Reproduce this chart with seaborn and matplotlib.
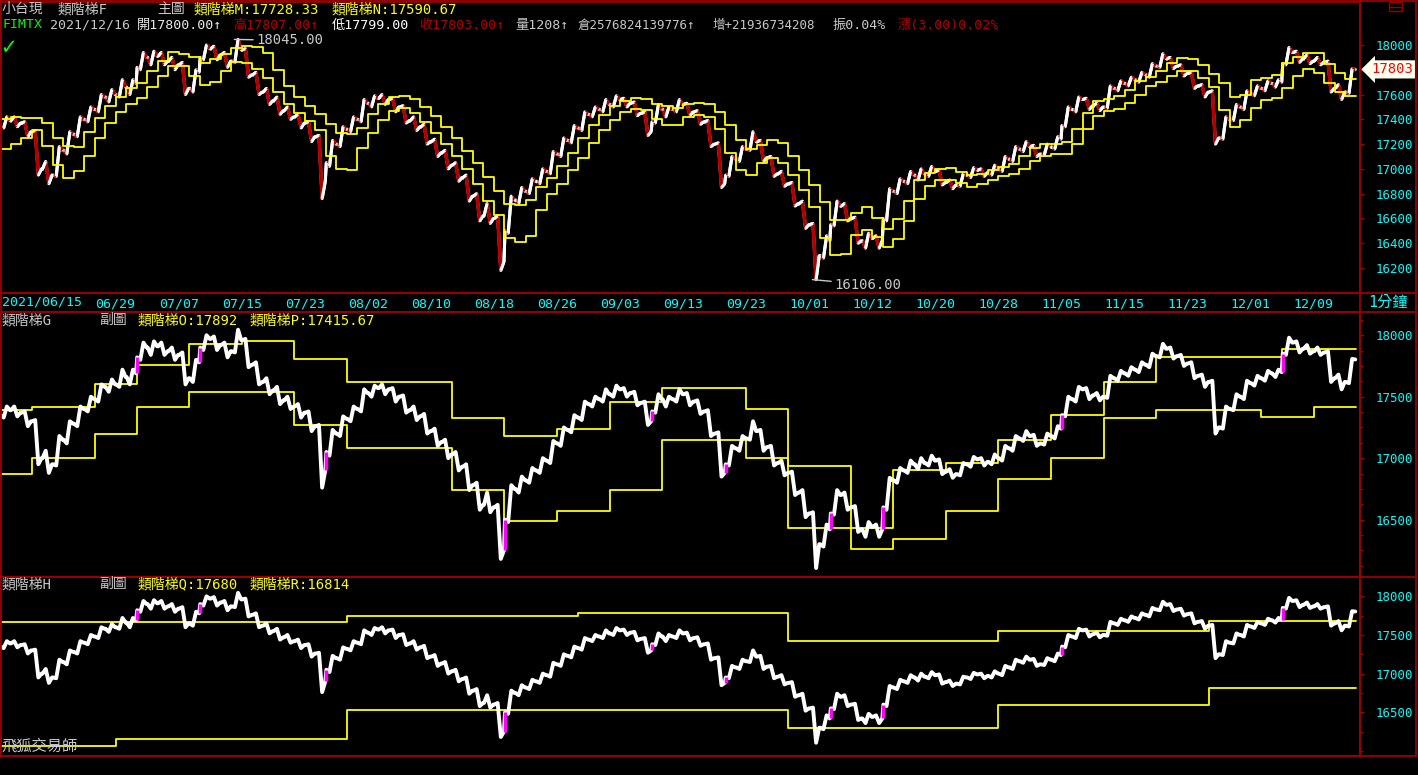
import numpy as np
import matplotlib
matplotlib.use('Agg')
import matplotlib.pyplot as plt
import matplotlib.transforms as mtransforms
from matplotlib.lines import Line2D
from matplotlib.patches import Rectangle
from matplotlib.collections import LineCollection
import seaborn as sns

sns.set_style('dark', {'axes.facecolor': 'black', 'figure.facecolor': 'black'})
plt.rcParams['font.family'] = ['DejaVu Sans Mono', 'Noto Sans CJK TC']

W, H = 1418, 775
RED = '#9a0000'
CYAN = '#00ffff'
YEL = '#ffff00'
GRAY = '#c8c8c8'
DRED = '#b00000'

# daily OHLC (FIMTX, 2021/06/15 - 2021/12/16)
day_open = [17350, 17390, 17370, 17300, 17000, 16950, 17150, 17280, 17400, 17480,
            17580, 17600, 17660, 17820, 17900, 17910, 17870, 17840, 17650, 17900,
            17970, 17920, 17870, 17960, 17760, 17620, 17550, 17470, 17420, 17370,
            17260, 17050, 17200, 17320, 17400, 17530, 17570, 17560, 17500, 17390,
            17340, 17220, 17130, 17030, 16930, 16780, 16620, 16600, 16500, 16750,
            16820, 16900, 16980, 17120, 17230, 17330, 17440, 17480, 17520, 17560,
            17530, 17450, 17380, 17480, 17480, 17520, 17460, 17380, 17200, 16950,
            17080, 17160, 17220, 17090, 16960, 16880, 16720, 16550, 16300, 16550,
            16700, 16600, 16420, 16440, 16600, 16820, 16900, 16950, 16960, 16980,
            16890, 16870, 16950, 16990, 16970, 17000, 17080, 17160, 17180, 17120,
            17180, 17350, 17480, 17560, 17510, 17500, 17650, 17690, 17720, 17760,
            17830, 17890, 17830, 17770, 17670, 17620, 17250, 17400, 17500, 17610,
            17650, 17690, 17850, 17940, 17890, 17870, 17860, 17650, 17620]
day_high = [17420, 17420, 17380, 17310, 17060, 17180, 17300, 17420, 17500, 17600,
            17640, 17720, 17720, 17940, 17950, 17940, 17900, 17860, 17800, 18000,
            17990, 17940, 18045, 17970, 17780, 17650, 17580, 17500, 17440, 17380,
            17270, 17230, 17340, 17420, 17560, 17590, 17600, 17570, 17510, 17420,
            17360, 17240, 17150, 17050, 16950, 16800, 16720, 16620, 16780, 16850,
            16920, 17000, 17140, 17250, 17350, 17460, 17500, 17560, 17590, 17570,
            17540, 17460, 17520, 17500, 17560, 17530, 17470, 17390, 17210, 17100,
            17180, 17300, 17230, 17100, 16980, 16890, 16740, 16560, 16460, 16740,
            16720, 16610, 16480, 16460, 16840, 16920, 16980, 17000, 17020, 16990,
            16910, 16960, 17010, 17000, 17030, 17100, 17180, 17220, 17190, 17200,
            17260, 17500, 17580, 17570, 17530, 17670, 17710, 17740, 17780, 17850,
            17930, 17900, 17840, 17780, 17680, 17630, 17420, 17520, 17630, 17670,
            17710, 17720, 17980, 17950, 17920, 17900, 17870, 17680, 17807]
day_low = [17330, 17340, 17260, 16950, 16880, 16940, 17120, 17260, 17380, 17460,
           17540, 17580, 17600, 17800, 17840, 17840, 17800, 17600, 17620, 17880,
           17880, 17820, 17860, 17740, 17600, 17520, 17440, 17400, 17330, 17220,
           16760, 17020, 17180, 17300, 17380, 17500, 17520, 17460, 17370, 17310,
           17200, 17100, 17000, 16900, 16740, 16580, 16560, 16180, 16480, 16720,
           16800, 16880, 16960, 17100, 17210, 17310, 17420, 17460, 17500, 17500,
           17430, 17270, 17370, 17420, 17460, 17430, 17360, 17180, 16850, 16940,
           17060, 17150, 17060, 16940, 16860, 16700, 16520, 16106, 16280, 16540,
           16580, 16400, 16360, 16360, 16580, 16800, 16880, 16910, 16940, 16870,
           16840, 16860, 16930, 16940, 16950, 16980, 17060, 17140, 17100, 17110,
           17160, 17340, 17460, 17480, 17470, 17490, 17630, 17670, 17700, 17740,
           17820, 17810, 17750, 17650, 17580, 17200, 17240, 17390, 17480, 17590,
           17630, 17660, 17840, 17860, 17850, 17840, 17620, 17560, 17610]
day_close = [17390, 17370, 17300, 17000, 16950, 17150, 17280, 17400, 17480, 17580,
             17600, 17660, 17690, 17900, 17910, 17870, 17840, 17650, 17780, 17970,
             17920, 17870, 17960, 17760, 17620, 17550, 17470, 17420, 17370, 17260,
             16900, 17200, 17320, 17400, 17530, 17570, 17560, 17500, 17390, 17340,
             17220, 17130, 17030, 16930, 16780, 16620, 16600, 16250, 16750, 16820,
             16900, 16980, 17120, 17230, 17330, 17440, 17480, 17520, 17560, 17530,
             17450, 17300, 17480, 17480, 17520, 17460, 17380, 17200, 16880, 17080,
             17160, 17220, 17090, 16960, 16880, 16720, 16550, 16300, 16420, 16700,
             16600, 16420, 16440, 16420, 16820, 16900, 16950, 16960, 16980, 16890,
             16870, 16950, 16990, 16970, 17000, 17080, 17160, 17180, 17120, 17180,
             17240, 17480, 17560, 17510, 17500, 17650, 17690, 17720, 17760, 17830,
             17890, 17830, 17770, 17670, 17620, 17250, 17400, 17500, 17610, 17650,
             17690, 17700, 17940, 17890, 17870, 17860, 17650, 17620, 17803]

# main chart ladders (daily)
ladder_m = [17400, 17420, 17410, 17407, 17370, 17250, 17183, 17180, 17300, 17407,
            17507, 17580, 17653, 17693, 17793, 17870, 17943, 17930, 17900, 17853,
            17887, 17930, 17977, 17992, 17985, 17932, 17800, 17670, 17577, 17507,
            17440, 17363, 17293, 17280, 17330, 17440, 17523, 17583, 17587, 17560,
            17500, 17430, 17340, 17250, 17147, 17050, 16933, 16823, 16713, 16707,
            16750, 16850, 16923, 17020, 17130, 17247, 17353, 17437, 17507, 17550,
            17573, 17567, 17523, 17507, 17493, 17527, 17530, 17520, 17463, 17357,
            17233, 17163, 17193, 17237, 17210, 17103, 16990, 16870, 16730, 16587,
            16587, 16640, 16690, 16603, 16517, 16593, 16740, 16913, 16967, 17000,
            17003, 16973, 16953, 16960, 16990, 17013, 17043, 17103, 17167, 17197,
            17203, 17217, 17320, 17447, 17550, 17560, 17590, 17637, 17707, 17743,
            17790, 17853, 17893, 17890, 17840, 17767, 17697, 17577, 17600, 17717,
            17732, 17757, 17853, 17902, 17934, 17934, 17845, 17773, 17728]
ladder_n = [17160, 17200, 17250, 17310, 17183, 17030, 16923, 16980, 17107, 17253,
            17367, 17460, 17527, 17573, 17660, 17747, 17827, 17827, 17747, 17673,
            17700, 17793, 17860, 17853, 17807, 17733, 17620, 17520, 17453, 17390,
            17317, 17103, 17000, 16987, 17167, 17287, 17393, 17467, 17493, 17450,
            17380, 17293, 17203, 17100, 17000, 16880, 16740, 16627, 16440, 16407,
            16460, 16667, 16800, 16880, 16987, 17090, 17207, 17313, 17397, 17460,
            17487, 17477, 17400, 17357, 17353, 17417, 17437, 17417, 17323, 17130,
            16990, 16950, 17050, 17090, 17050, 16953, 16833, 16693, 16442, 16302,
            16309, 16467, 16507, 16447, 16373, 16433, 16580, 16753, 16863, 16910,
            16907, 16883, 16857, 16877, 16910, 16940, 16957, 16997, 17060, 17100,
            17117, 17123, 17203, 17320, 17427, 17470, 17480, 17530, 17597, 17667,
            17703, 17753, 17790, 17793, 17737, 17660, 17477, 17340, 17393, 17490,
            17555, 17571, 17652, 17749, 17805, 17773, 17692, 17620, 17591]

# sub chart ladders: (number of days, level)
ladder_o = [(3, 17390), (6, 17420), (4, 17600), (5, 17760), (5, 17930), (5, 17950),
            (5, 17810), (10, 17620), (5, 17330), (5, 17180), (5, 17240), (5, 17460),
            (8, 17570), (4, 17400), (6, 16940), (4, 16430), (5, 16900), (5, 16960),
            (5, 17150), (5, 17350), (5, 17620), (12, 17820), (7, 17892)]
ladder_p = [(3, 16870), (6, 17000), (4, 17200), (5, 17420), (5, 17540), (5, 17540),
            (5, 17270), (10, 17080), (5, 16740), (5, 16490), (5, 16570), (5, 16740),
            (8, 17150), (4, 17000), (6, 16430), (4, 16260), (5, 16340), (5, 16570),
            (5, 16830), (5, 17000), (5, 17330), (10, 17390), (5, 17336), (4, 17416)]
ladder_q = [(33, 17670), (22, 17740), (20, 17790), (20, 17420), (20, 17550), (14, 17680)]
ladder_r = [(11, 16066), (22, 16158), (42, 16526), (20, 16300), (20, 16590), (14, 16814)]

date_labels = ['06/29', '07/07', '07/15', '07/23', '08/02', '08/10', '08/18', '08/26',
               '09/03', '09/13', '09/23', '10/01', '10/12', '10/20', '10/28', '11/05',
               '11/15', '11/23', '12/01', '12/09']
date_pos = [11, 17, 23, 29, 35, 41, 47, 53, 59, 65, 71, 77, 83, 89, 95, 101,
            107, 113, 119, 125]

n_days = len(day_close)

fig = plt.figure(figsize=(W / 100, H / 100), dpi=100, facecolor='black')


def px_axes(x0, y0, x1, y1):
    a = fig.add_axes([x0 / W, 1 - y1 / H, (x1 - x0) / W, (y1 - y0) / H])
    a.set_facecolor('black')
    for s in a.spines.values():
        s.set_color(RED)
        s.set_linewidth(1.3)
    a.set_xlim(0, 129.4)
    a.grid(False)
    return a


def ftext(x, y, s, color, size=10, **kw):
    fig.text(x / W, 1 - y / H, s, color=color, fontsize=size, va='center', ha='left', **kw)


def expand(runs):
    vals = np.concatenate([[lvl] * n for n, lvl in runs])
    return vals[:n_days]


def step_line(ax, vals):
    xs = np.arange(n_days + 1)
    ys = np.append(vals, vals[-1])
    sns.lineplot(x=xs, y=ys, ax=ax, color=YEL, linewidth=1.3, drawstyle='steps-post',
                 estimator=None, sort=False, legend=False)


# intraday-ish path: open -> extreme -> extreme -> close
path_x, path_y = [], []
for k in range(n_days):
    o, h, l, c = day_open[k], day_high[k], day_low[k], day_close[k]
    mid = [l, h] if c >= o else [h, l]
    path_x += [k + 0.05, k + 0.35, k + 0.65, k + 0.95]
    path_y += [o] + mid + [c]
path_x = np.array(path_x)
path_y = np.array(path_y)

ax1 = px_axes(0, 2, 1360, 293)
ax2 = px_axes(0, 312, 1360, 577)
ax3 = px_axes(0, 577, 1360, 756)

ax1.set_ylim(15998, 18347)
ax2.set_ylim(16033, 18189)
ax3.set_ylim(15934, 18250)

# main chart: rising legs white, falling legs dark red
sns.lineplot(x=path_x, y=path_y, ax=ax1, color='white', linewidth=2.2, estimator=None,
             sort=False, legend=False)
pts = np.column_stack([path_x, path_y])
segs = np.stack([pts[:-1], pts[1:]], axis=1)
down = path_y[1:] < path_y[:-1]
ax1.add_collection(LineCollection(segs[down], colors=DRED, linewidths=2.6))
ax1.add_collection(LineCollection(segs[~down], colors='white', linewidths=2.2))
step_line(ax1, np.array(ladder_m))
step_line(ax1, np.array(ladder_n))

# sub charts
for ax, up, dn in [(ax2, ladder_o, ladder_p), (ax3, ladder_q, ladder_r)]:
    step_line(ax, expand(up))
    step_line(ax, expand(dn))
    sns.lineplot(x=path_x, y=path_y, ax=ax, color='white', linewidth=2.8,
                 estimator=None, sort=False, legend=False)
    for k in range(1, n_days):
        if abs(day_open[k] - day_close[k - 1]) > 60:
            ax.plot([k + 0.05, k + 0.05], [day_close[k - 1], day_open[k]],
                    color='#ff00ff', lw=2.5, solid_capstyle='butt')

# high / low markers
ih = int(np.argmax(day_high))
il = int(np.argmin(day_low))
ax1.annotate(f'{day_high[ih]:.2f}', xy=(ih + 0.3, day_high[ih]), xytext=(22, -1),
             textcoords='offset pixels', color=GRAY, fontsize=10, va='center',
             arrowprops=dict(arrowstyle='-', color=GRAY, lw=1, shrinkA=0, shrinkB=0))
ax1.annotate(f'{day_low[il]:.2f}', xy=(il + 0.3, day_low[il]), xytext=(22, -5),
             textcoords='offset pixels', color=GRAY, fontsize=10, va='center',
             arrowprops=dict(arrowstyle='-', color=GRAY, lw=1, shrinkA=0, shrinkB=0))

# right axes
main_ticks = np.arange(16200, 18001, 200)
ax1.set_yticks(main_ticks)
ax1.set_yticklabels(['' if v == 17800 else str(v) for v in main_ticks])
ax2.set_yticks([16500, 17000, 17500, 18000])
ax2.set_yticks(np.arange(16125, 18190, 125), minor=True)
ax3.set_yticks([16500, 17000, 17500, 18000])
ax3.set_yticks(np.arange(16000, 18250, 250), minor=True)
for ax in (ax1, ax2, ax3):
    ax.yaxis.tick_right()
    ax.tick_params(axis='y', which='both', direction='out', length=3, width=1,
                   color=RED, labelcolor=CYAN, labelsize=9, pad=8)
    ax.tick_params(axis='y', which='minor', length=2.5)
    ax.set_xticks([])
    ax.set_xlabel('')
    ax.set_ylabel('')

# date strip on main chart
ax1.set_xticks(date_pos)
ax1.set_xticklabels(date_labels)
ax1.set_xticks(np.arange(1, 130, 2), minor=True)
ax1.tick_params(axis='x', which='both', direction='out', length=5, width=1, color=RED,
                labelcolor=CYAN, labelsize=9.5, pad=-1.5)
ftext(2, 302, '2021/06/15', CYAN, 9.5)
ftext(1368, 302, '1分鐘', CYAN, 11)

# last price tag
tr = mtransforms.blended_transform_factory(ax1.transAxes, ax1.transData)
ax1.text(1.0 + 11 / 1360, day_close[-1], f'{day_close[-1]:.0f}', transform=tr,
         color='#ff0000', fontsize=10, va='center', ha='left', clip_on=False,
         bbox=dict(boxstyle='larrow,pad=0.15', fc='#fffff0', ec='none'))

# frame lines
for y in (1, 293, 312, 577, 756):
    fig.add_artist(Line2D([0, 1416 / W], [1 - y / H] * 2, color=RED, lw=1.3))
for x in (0.5, 1360, 1416):
    fig.add_artist(Line2D([x / W] * 2, [1 - 1 / H, 1 - 756 / H], color=RED, lw=1.3))
fig.add_artist(Rectangle((1389 / W, 1 - 11 / H), 13 / W, 9 / H, fill=False,
                         ec=RED, lw=1))
fig.add_artist(Line2D([1389 / W, 1402 / W], [1 - 7 / H] * 2, color=RED, lw=1))

# header texts
ftext(2, 9, '小台現', GRAY)
ftext(58, 9, '類階梯F', GRAY)
ftext(157, 9, '主圖', GRAY)
ftext(194, 9, '類階梯M:17728.33', YEL)
ftext(332, 9, '類階梯N:17590.67', YEL)
ftext(3, 25, 'FIMTX', '#00ff00', 9.5)
ftext(50, 25, '2021/12/16', GRAY, 9.5)
ftext(137, 25, '開17800.00↑', '#e8e8e8', 9.5)
ftext(233, 25, '高17807.00↑', DRED, 9.5)
ftext(332, 25, '低17799.00', 'white', 9.5)
ftext(419, 25, '收17803.00↑', DRED, 9.5)
ftext(515, 25, '量1208↑', GRAY, 9.5)
ftext(578, 25, '倉2576824139776↑', GRAY, 9)
ftext(713, 25, '增+21936734208', GRAY, 9)
ftext(833, 25, '振0.04%', GRAY, 9.5)
ftext(898, 25, '漲(3.00)0.02%', DRED, 9.5)
ftext(1, 47, '✓', '#00ff00', 17, fontweight='bold')

ftext(2, 320, '類階梯G', GRAY)
ftext(99, 320, '副圖', GRAY)
ftext(138, 320, '類階梯O:17892', YEL)
ftext(250, 320, '類階梯P:17415.67', YEL)

ftext(2, 584, '類階梯H', GRAY)
ftext(99, 584, '副圖', GRAY)
ftext(138, 584, '類階梯Q:17680', YEL)
ftext(250, 584, '類階梯R:16814', YEL)
ftext(2, 746, '飛狐交易師', GRAY, 11)

fig.savefig('out.png', dpi=100, facecolor='black')
